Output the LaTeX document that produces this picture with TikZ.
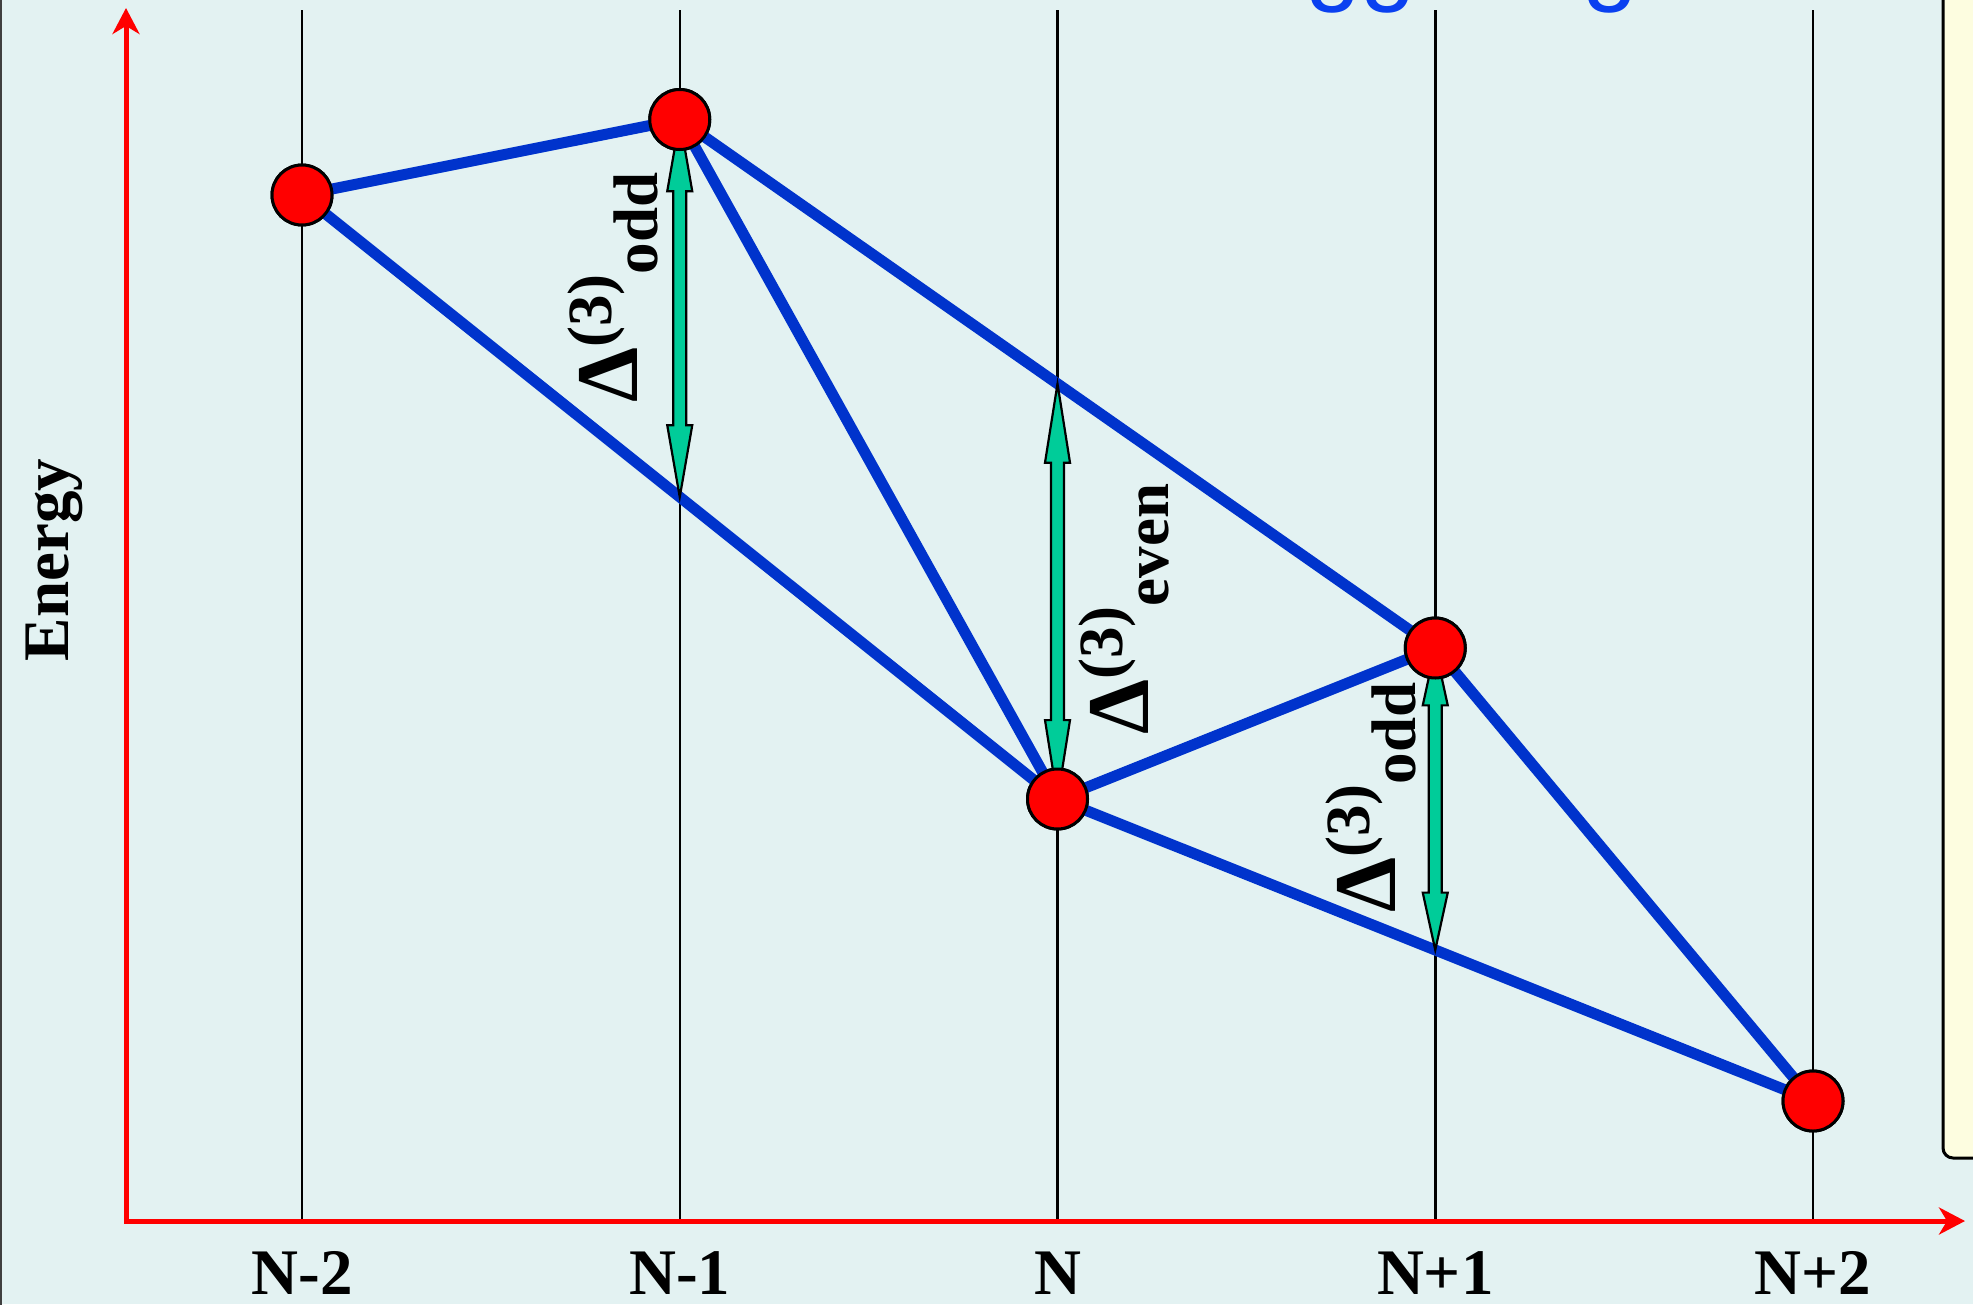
\documentclass[tikz,border=0pt]{standalone}
\usepackage{fontspec}
\setmainfont{Liberation Serif}
\newfontfamily\titlefont{Liberation Sans}
\usetikzlibrary{arrows.meta,calc}
\definecolor{bgc}{RGB}{227,242,242}
\definecolor{linec}{RGB}{0,51,204}
\definecolor{gapc}{RGB}{0,204,153}
\definecolor{boxc}{RGB}{253,253,224}
\definecolor{titlec}{RGB}{10,64,240}
\newcommand\dlab[1]{{\fontsize{88}{90}\selectfont Δ}\raisebox{26pt}{\fontsize{63}{65}\selectfont(3)}\raisebox{-20pt}{\fontsize{63}{65}\selectfont #1}}
\newcommand\gaparrow[2]{%
  \path[gapst] let \p1=(#1), \p2=(#2), \n1={0.19*(\y1-\y2)} in
    (\x1,\y1) -- (\x1+12.5pt,\y1-\n1*1pt) -- (\x1+6.5pt,\y1-\n1*1pt) -- (\x1+6.5pt,\y2+\n1*1pt)
    -- (\x1+12.5pt,\y2+\n1*1pt) -- (\x1,\y2) -- (\x1-12.5pt,\y2+\n1*1pt) -- (\x1-6.5pt,\y2+\n1*1pt)
    -- (\x1-6.5pt,\y1-\n1*1pt) -- (\x1-12.5pt,\y1-\n1*1pt) -- cycle;}
\begin{document}
\begin{tikzpicture}[x=1pt,y=-1pt,
  gridst/.style={line width=2.5pt,black},
  axisst/.style={line width=5pt,red,{Stealth[length=26pt,width=27pt,inset=8pt]}-{Stealth[length=26pt,width=27pt,inset=8pt]}},
  edge/.style={line width=11pt,linec},
  dot/.style={circle,draw=black,line width=3pt,fill=red,minimum size=60pt,inner sep=0pt},
  gapst/.style={draw=black,line width=2.2pt,fill=gapc,line join=miter},
  xlab/.style={anchor=base,inner sep=0pt,font=\bfseries\fontsize{65}{67}\selectfont},
  dlabel/.style={rotate=90,anchor=base west,inner sep=0pt,font=\bfseries},
]
\useasboundingbox (0,0) rectangle (1973,1304);
\fill[bgc] (0,0) rectangle (1973,1304);
\clip (0,0) rectangle (1973,1304);
% title (only the descenders show)
\node[anchor=base east,inner sep=0pt,text=titlec,font=\titlefont\fontsize{100}{102}\selectfont] (title) at (1639,-8) {Odd-even staggering};
% right side box
\draw[fill=boxc,line width=3pt,rounded corners=10pt] (2010,-30) -- (1943,-30) -- (1943,1158) -- (2010,1158) -- cycle;
% left frame line
\draw[line width=2pt,black!75] (1,-5) -- (1,1310);
% grid lines
\foreach \i in {0,...,4} \draw[gridst] ({302+377.75*\i},10) -- ({302+377.75*\i},1221);
% axes
\draw[axisst] (126,8) -- (126,1221) -- (1965,1221);
% level points
\node[dot] (A) at (302,195) {};
\node[dot] (B) at (679.75,119.5) {};
\node[dot] (C) at (1057.5,799) {};
\node[dot] (D) at (1435.25,648) {};
\node[dot] (E) at (1813,1101) {};
\coordinate (mAC) at ($(A.center)!0.5!(C.center)$);
\coordinate (mBD) at ($(B.center)!0.5!(D.center)$);
\coordinate (mCE) at ($(C.center)!0.5!(E.center)$);
% connecting lines
\draw[edge] (A.center) -- (B.center);
\draw[edge] (A.center) -- (C.center);
\draw[edge] (B.center) -- (C.center);
\draw[edge] (B.center) -- (D.center);
\draw[edge] (C.center) -- (D.center);
\draw[edge] (C.center) -- (E.center);
\draw[edge] (D.center) -- (E.center);
% gap arrows
\gaparrow{B.center}{mAC}
\gaparrow{mBD}{C.center}
\gaparrow{D.center}{mCE}
% redraw dots on top
\node[dot] at (A) {};
\node[dot] at (B) {};
\node[dot] at (C) {};
\node[dot] at (D) {};
\node[dot] at (E) {};
% labels
\node[dlabel] (L1) at (637,403) {\dlab{odd}};
\node[dlabel] (L2) at (1148,735) {\dlab{even}};
\node[dlabel] (L3) at (1395,913) {\dlab{odd}};
\node[rotate=90,anchor=base,inner sep=0pt,font=\bfseries\fontsize{65}{67}\selectfont] (ylab) at (68,560) {Energy};
\node[xlab] (x1) at (302,1294) {N-2};
\node[xlab] (x2) at (679.75,1294) {N-1};
\node[xlab] (x3) at (1057.5,1294) {N};
\node[xlab] (x4) at (1435.25,1294) {N+1};
\node[xlab] (x5) at (1813,1294) {N+2};
\end{tikzpicture}
\end{document}
